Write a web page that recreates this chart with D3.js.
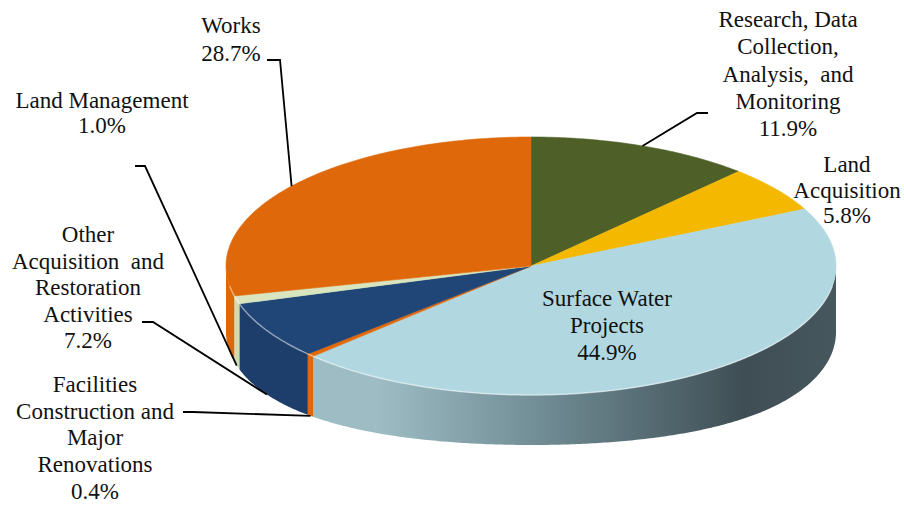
<!DOCTYPE html>
<html>
<head>
<meta charset="utf-8">
<script src="https://cdn.jsdelivr.net/npm/d3@7"></script>
<style>
  html, body { margin: 0; padding: 0; background: #ffffff; }
  svg { display: block; }
</style>
</head>
<body>
<svg id="chart" width="904" height="508"></svg>
<script>
// Budget shares by program area (percent)
const categories = [
  "Research, Data Collection, Analysis, and Monitoring",
  "Land Acquisition",
  "Surface Water Projects",
  "Facilities Construction and Major Renovations",
  "Other Acquisition and Restoration Activities",
  "Land Management",
  "Works"
];
const values = [11.9, 5.8, 44.9, 0.4, 7.2, 1.0, 28.7];
const valueLabels = ["11.9%", "5.8%", "44.9%", "0.4%", "7.2%", "1.0%", "28.7%"];
const labelLines = [
  ["Research, Data", "Collection,", "Analysis,  and", "Monitoring"],
  ["Land", "Acquisition"],
  ["Surface Water", "Projects"],
  ["Facilities", "Construction and", "Major", "Renovations"],
  ["Other", "Acquisition  and", "Restoration", "Activities"],
  ["Land Management"],
  ["Works"]
];

// Colours of the top faces and the outer walls
const topColors  = ["#4e6027", "#f4b800", "#b1d7e0", "#e2690a", "#1f4677", "#d9e5be", "#df690a"];
const wallColors = ["#3d4c1f", "#c99800", "url(#waterWall)", "#e0680a", "#1d3e6a", "#cfdcb3", "#dc680a"];

// Label placement: centre x, first baseline, line height, optional leader (label end, elbow, anchor level)
const labelLayout = [
  { x: 788, y: 27,  lh: 27.3, leader: { start: [708, 113], elbow: [697, 113], level: 0 } },
  { x: 847, y: 172, lh: 25.5 },
  { x: 607, y: 306, lh: 27 },
  { x: 95,  y: 392, lh: 26.7, leader: { start: [183, 412], elbow: [193, 412], level: 1 } },
  { x: 88,  y: 242, lh: 26.5, leader: { start: [142, 322], elbow: [153, 322], level: 1 } },
  { x: 102, y: 108, lh: 25,   leader: { start: [135, 166], elbow: [145, 166], level: 1 } },
  { x: 231, y: 33,  lh: 28,   leader: { start: [267, 60],  elbow: [280, 60],  level: 0 } }
];

const FONT = "Liberation Serif";

const svg = d3.select("#chart");

// Projected pie geometry: top rim ellipse and wall depth (deeper at the flanks, shallower at the front)
const cx = 531, cy = 266, rx = 305, ry = 129;
const depthSide = 66, depthFront = 50;
function wallDepth(a) {
  const f = Math.max(0, -Math.cos(a));
  return depthSide - (depthSide - depthFront) * Math.pow(f, 3);
}

const defs = svg.append("defs");
const grad = defs.append("linearGradient")
  .attr("id", "waterWall")
  .attr("gradientUnits", "userSpaceOnUse")
  .attr("x1", cx - rx).attr("y1", 0).attr("x2", cx + rx).attr("y2", 0);
grad.append("stop").attr("offset", "0.25").attr("stop-color", "#9dbcc4");
grad.append("stop").attr("offset", "0.55").attr("stop-color", "#6b868e");
grad.append("stop").attr("offset", "0.85").attr("stop-color", "#3f4e55");
grad.append("stop").attr("offset", "1").attr("stop-color", "#47575e");

const pie = d3.pie().sort(null).value(d => d).startAngle(0).endAngle(2 * Math.PI);
const arcs = pie(values);

// angle measured clockwise from the back (12 o'clock); level 0 = top rim, 1 = bottom rim
const sx = d3.scaleLinear().domain([-1, 1]).range([cx - rx, cx + rx]);
const sy = d3.scaleLinear().domain([-1, 1]).range([cy + ry, cy - ry]);
function rim(a, level) {
  return [sx(Math.sin(a)), sy(Math.cos(a)) + level * wallDepth(a)];
}
function rimPoints(a0, a1, level) {
  const n = Math.max(2, Math.ceil(Math.abs(a1 - a0) / 0.01));
  return d3.range(n + 1).map(i => rim(a0 + (a1 - a0) * i / n, level));
}
const line = d3.line();

// Outer walls for the front half
const wallG = svg.append("g");
arcs.forEach((d, i) => {
  const s = Math.max(d.startAngle, Math.PI / 2);
  const e = Math.min(d.endAngle, 3 * Math.PI / 2);
  if (e <= s) return;
  const pts = rimPoints(s, e, 0).concat(rimPoints(e, s, 1));
  wallG.append("path")
    .attr("d", line(pts) + "Z")
    .attr("fill", wallColors[i]);
});

// Top faces
const topG = svg.append("g");
arcs.forEach((d, i) => {
  const pts = [[cx, cy]].concat(rimPoints(d.startAngle, d.endAngle, 0));
  topG.append("path")
    .attr("d", line(pts) + "Z")
    .attr("fill", topColors[i])
    .attr("stroke", topColors[i])
    .attr("stroke-width", 0.6);
});

// Soft bevel highlight along the front rim
svg.append("path")
  .attr("d", line(rimPoints(Math.PI * 0.55, Math.PI * 1.45, 0)))
  .attr("fill", "none")
  .attr("stroke", "rgba(255,255,255,0.45)")
  .attr("stroke-width", 1.5);

// Leader lines
const leaderG = svg.append("g");
arcs.forEach((d, i) => {
  const L = labelLayout[i].leader;
  if (!L) return;
  const mid = (d.startAngle + d.endAngle) / 2;
  const anchor = rim(mid, L.level);
  leaderG.append("path")
    .attr("d", line([L.start, L.elbow, anchor]))
    .attr("fill", "none")
    .attr("stroke", "#000")
    .attr("stroke-width", 1.8);
});

// Labels
const labelG = svg.append("g");
arcs.forEach((d, i) => {
  const lay = labelLayout[i];
  const lines = labelLines[i].concat([valueLabels[i]]);
  const t = labelG.append("text")
    .attr("text-anchor", "middle")
    .attr("font-family", FONT)
    .attr("font-size", 23)
    .attr("fill", "#111")
    .style("white-space", "pre");
  lines.forEach((s, k) => {
    t.append("tspan").attr("x", lay.x).attr("y", lay.y + k * lay.lh).text(s);
  });
});
</script>
</body>
</html>
